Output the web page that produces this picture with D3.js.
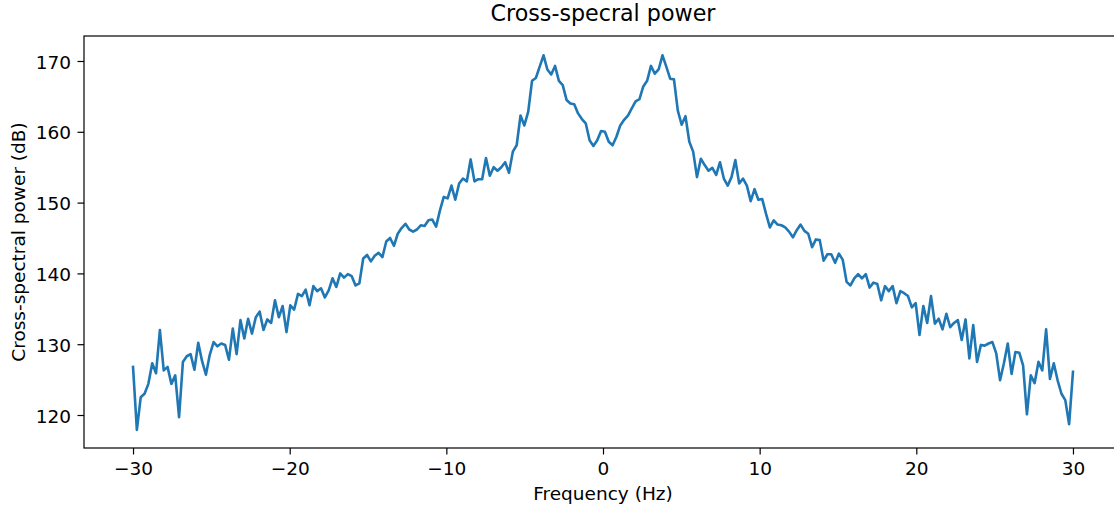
<!DOCTYPE html>
<html>
<head>
<meta charset="utf-8">
<script src="https://cdn.jsdelivr.net/npm/d3@7"></script>
<style>
  body { margin: 0; background: #fff; overflow: hidden; }
  svg text { font-family: "DejaVu Sans", sans-serif; fill: #000; }
</style>
</head>
<body>
<svg id="chart" width="1114" height="506"></svg>
<script>
// Cross-spectral power, values (dB)

// negative frequencies, -30 Hz up to just below 0
const powerNeg = [
  126.8, 117.9, 122.5, 123.0, 124.4, 127.3, 125.9, 132.0, 126.3, 126.8,
  124.4, 125.6, 119.7, 127.5, 128.3, 128.6, 126.4, 130.2, 127.6, 125.7,
  128.5, 130.3, 129.7, 130.1, 129.9, 127.8, 132.2, 128.6, 133.4, 130.8,
  133.6, 131.5, 133.8, 134.6, 132.0, 133.5, 133.0, 136.2, 133.8, 135.4,
  131.7, 135.5, 134.9, 137.1, 136.8, 137.7, 135.5, 138.2, 137.5, 137.9,
  136.6, 137.6, 139.3, 138.1, 140.0, 139.4, 139.9, 139.6, 138.3, 138.6,
  142.1, 142.6, 141.7, 142.5, 142.9, 142.3, 144.5, 145.0, 143.9, 145.6,
  146.4, 147.0, 146.2, 145.9, 146.2, 146.8, 146.7, 147.5, 147.6, 146.6,
  148.9, 150.8, 150.6, 152.4, 150.4, 152.7, 153.4, 153.0, 156.1, 153.0,
  153.3, 153.3, 156.3, 153.8, 155.0, 154.5, 155.0, 155.7, 154.2, 157.2,
  158.1, 162.3, 160.9, 162.8, 167.2, 167.6, 169.2, 170.8, 168.8, 168.1,
  169.3, 167.2, 166.6, 164.5, 164.0, 163.9, 162.6, 161.8, 161.2, 158.8,
  158.0, 158.8, 160.1
];

// positive frequencies, just above 0 up to 30 Hz
const powerPos = [
  160.0, 158.6, 158.1, 159.3, 160.9, 161.7, 162.3, 163.3, 164.3, 164.6,
  166.4, 167.2, 169.3, 168.2, 168.8, 170.8, 169.2, 167.5, 167.4, 163.0,
  161.0, 162.2, 158.6, 157.2, 153.6, 156.2, 155.3, 154.5, 154.9, 153.9,
  155.7, 153.4, 152.4, 153.6, 156.0, 152.7, 153.4, 152.4, 150.2, 151.9,
  150.4, 150.5, 148.4, 146.5, 147.5, 146.9, 146.8, 146.5, 145.9, 145.1,
  146.1, 146.9, 146.0, 145.6, 143.7, 144.8, 144.7, 141.8, 142.7, 142.7,
  141.5, 142.8, 141.9, 138.8, 138.3, 139.3, 139.9, 139.3, 139.9, 138.0,
  138.7, 138.5, 136.2, 138.2, 137.5, 138.2, 135.8, 137.5, 137.2, 136.8,
  135.2, 135.8, 131.3, 135.4, 133.0, 136.8, 132.9, 133.6, 132.1, 134.3,
  132.4, 133.0, 133.4, 130.6, 133.5, 128.0, 132.7, 127.5, 129.9, 129.8,
  130.1, 130.3, 128.7, 124.9, 127.3, 130.1, 125.8, 128.9, 128.8, 127.0,
  120.1, 125.6, 124.5, 127.5, 126.3, 132.1, 125.1, 127.3, 124.9, 123.0,
  122.1, 118.7, 126.1
];

const freqRange = [-30, 30];
const xTicks = [-30, -20, -10, 0, 10, 20, 30];
const yTicks = [120, 130, 140, 150, 160, 170];
const titleText = "Cross-specral power";
const xLabelText = "Frequency (Hz)";
const yLabelText = "Cross-spectral power (dB)";

// evenly spaced frequency grid
const power = powerNeg.concat(powerPos);
const fStep = (freqRange[1] - freqRange[0]) / (power.length - 1);
const dataset = power.map((p, i) => ({ f: freqRange[0] + i * fStep, p: p }));

const svg = d3.select("#chart");
// axes box; the right edge sits just past the canvas, as in the reference
const p_l = 84, p_r = 1122, p_t = 36, p_b = 448;

const xScale = d3.scaleLinear().
domain([-33.13, 33.13]).
range([p_l, p_r]);

const yScale = d3.scaleLinear().
domain([115.34, 173.53]).
range([p_b, p_t]);

// the line
const line = d3.line().
x(d => xScale(d.f)).
y(d => yScale(d.p));

svg.append("path").
datum(dataset).
attr("d", line).
attr("fill", "none").
attr("stroke", "#1f77b4").
attr("stroke-width", 2.6).
attr("stroke-linejoin", "round").
attr("stroke-linecap", "square");

// axes
const tickLen = 6.5, tickPad = 6.5, fs = 18.5;

const xAxis = svg.append("g").
attr("transform", `translate(0 ${p_b})`).
call(d3.axisBottom(xScale).tickValues(xTicks).tickSize(tickLen).tickPadding(tickPad));

const yAxis = svg.append("g").
attr("transform", `translate(${p_l} 0)`).
call(d3.axisLeft(yScale).tickValues(yTicks).tickSize(tickLen).tickPadding(tickPad));

[xAxis, yAxis].forEach(ax => {
  ax.attr("font-size", fs).attr("font-family", null);
  ax.select(".domain").remove();
  ax.selectAll(".tick line").attr("stroke", "#000").attr("stroke-width", 1.2);
  ax.selectAll(".tick text").attr("fill", "#000");
});
xAxis.selectAll(".tick text").attr("dy", "0.77em");
yAxis.selectAll(".tick text").attr("dy", "0.38em");

// frame
svg.append("rect").
attr("x", p_l).
attr("y", p_t).
attr("width", p_r - p_l).
attr("height", p_b - p_t).
attr("fill", "none").
attr("stroke", "#000").
attr("stroke-width", 1.2);

// title and labels, centred on the axes box
const midX = (p_l + p_r) / 2;

svg.append("text").
attr("x", midX).
attr("y", 21).
attr("text-anchor", "middle").
attr("font-size", 22.2).
text(titleText);

svg.append("text").
attr("x", midX).
attr("y", 500).
attr("text-anchor", "middle").
attr("font-size", fs).
text(xLabelText);

svg.append("text").
attr("transform", `translate(25 ${(p_t + p_b) / 2}) rotate(-90)`).
attr("text-anchor", "middle").
attr("font-size", fs).
text(yLabelText);
</script>
</body>
</html>
